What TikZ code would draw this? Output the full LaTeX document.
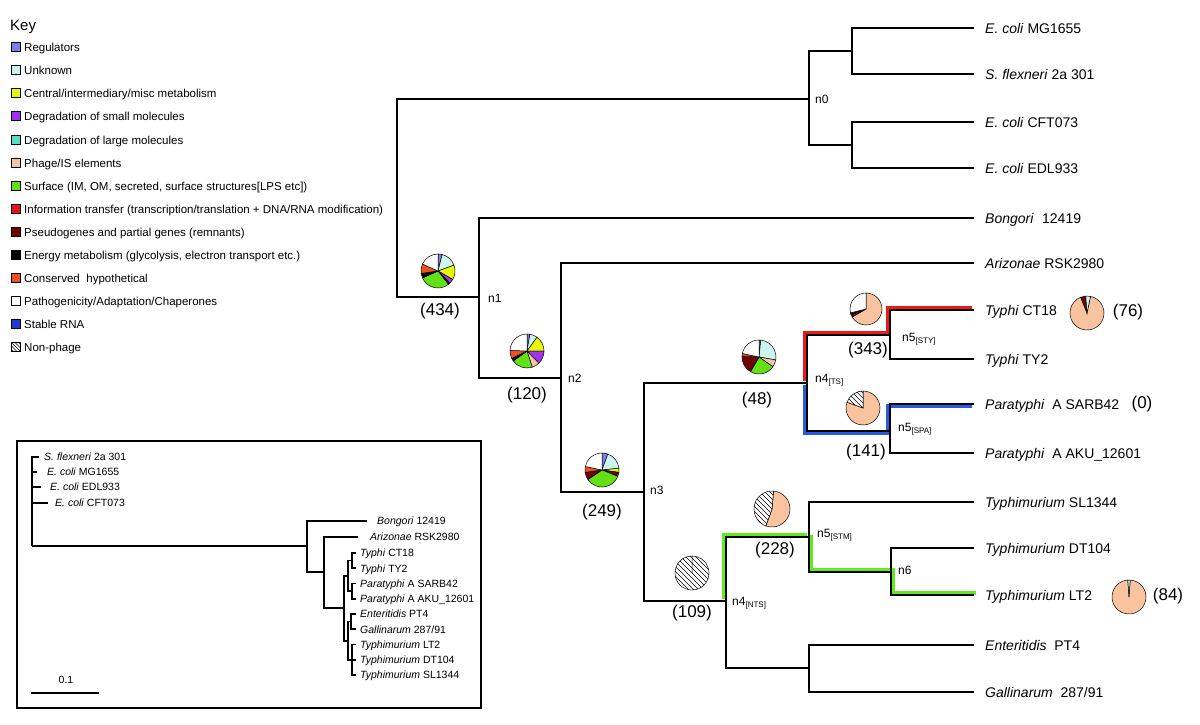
\documentclass[tikz,border=0pt]{standalone}
\usepackage{fontspec}
\setmainfont{Liberation Sans}
\definecolor{creg}{RGB}{125,125,235}
\definecolor{cunk}{RGB}{205,245,240}
\definecolor{ccen}{RGB}{230,250,0}
\definecolor{csml}{RGB}{160,50,240}
\definecolor{clrg}{RGB}{90,225,195}
\definecolor{cphg}{RGB}{250,195,160}
\definecolor{csur}{RGB}{100,225,20}
\definecolor{cinf}{RGB}{230,20,20}
\definecolor{cpse}{RGB}{110,5,5}
\definecolor{cene}{RGB}{0,0,0}
\definecolor{ccon}{RGB}{240,80,30}
\definecolor{cpat}{RGB}{255,255,255}
\definecolor{crna}{RGB}{30,60,200}
\definecolor{hlred}{RGB}{235,25,25}
\definecolor{hlblue}{RGB}{40,90,225}
\definecolor{hlgreen}{RGB}{95,235,30}
\newcommand{\pieslice}[4]{%
  \filldraw[fill=#4,draw=black,line width=0.5pt] (0,0) -- ({90-#2}:#1pt) arc[start angle={90-#2}, end angle={90-#3}, radius=#1pt] -- cycle;}
\newcommand{\hatchslice}[3]{%
  \begin{scope}
  \clip (0,0) -- ({90-#2}:#1pt) arc[start angle={90-#2}, end angle={90-#3}, radius=#1pt] -- cycle;
  \fill[white] (-30pt,-30pt) rectangle (30pt,30pt);
  \foreach \k in {-7,...,7} {\draw[line width=0.5pt] ({\k*5pt-30pt},{30pt}) -- ({\k*5pt+30pt},{-30pt});}
  \end{scope}
  \draw[line width=0.5pt] (0,0) -- ({90-#2}:#1pt) arc[start angle={90-#2}, end angle={90-#3}, radius=#1pt] -- cycle;}
\newcommand{\pieat}[3]{\begin{scope}[shift={(#1)}]\foreach \a/\b/\c in {#3}{\pieslice{#2}{\a}{\b}{\c}}\end{scope}}
\newcommand{\hatchat}[4]{\begin{scope}[shift={(#1)}]\hatchslice{#2}{#3}{#4}\end{scope}}
\newcommand{\subl}[1]{\raisebox{-2.5pt}{\fontsize{8}{9}\selectfont #1}}
\begin{document}
\begin{tikzpicture}[x=1pt,y=-1pt,
 br/.style={line width=1.8pt},
 ibr/.style={line width=1.6pt},
 hl/.style={line width=4.5pt},
 leaf/.style={anchor=west,inner sep=0pt,font=\fontsize{14}{16}\selectfont,text height=10pt,text depth=0pt},
 ilab/.style={anchor=west,inner sep=0pt,font=\fontsize{10.5}{12}\selectfont,text height=7.5pt,text depth=0pt},
 cnt/.style={inner sep=0pt,font=\fontsize{17}{19}\selectfont},
 nlab/.style={anchor=west,inner sep=0pt,font=\fontsize{12}{14}\selectfont,text height=8.6pt,text depth=0pt},
 keysq/.style={draw=black,line width=1.3pt,minimum size=9pt,inner sep=0pt},
 keylab/.style={anchor=west,inner sep=0pt,font=\fontsize{11.5}{13}\selectfont,text height=8.2pt,text depth=0pt},
]
\useasboundingbox (0,0) rectangle (1200,724);
\fill[white] (0,0) rectangle (1200,724);

% ---------------- Key ----------------
\node[anchor=west,inner sep=0pt,font=\fontsize{15}{17}\selectfont] (keytitle) at (10,27) {Key};
\foreach \i/\y/\c/\t in {
 1/47/creg/Regulators,
 2/70/cunk/Unknown,
 3/93/ccen/Central\slash intermediary\slash misc metabolism,
 4/116/csml/Degradation of small molecules,
 5/140/clrg/Degradation of large molecules,
 6/163/cphg/Phage\slash IS elements,
 7/186/csur/{Surface (IM, OM, secreted, surface structures[LPS etc])},
 8/209/cinf/Information transfer (transcription\slash translation + DNA\slash RNA modification),
 9/232/cpse/Pseudogenes and partial genes (remnants),
 10/255/cene/{Energy metabolism (glycolysis, electron transport etc.)},
 11/278/ccon/Conserved\hspace{0.3em} hypothetical,
 12/301/cpat/Pathogenicity\slash Adaptation\slash Chaperones,
 13/324/crna/Stable RNA}{
  \node[keysq,fill=\c] (ks\i) at (16,\y) {};
  \node[keylab] (kt\i) at (24,\y) {\t};
}
\node[keysq,fill=white,path picture={\foreach \k in {-3,...,3}{\draw[line width=0.4pt] ([xshift=\k*3.5pt-8pt,yshift=8pt]path picture bounding box.center) -- ([xshift=\k*3.5pt+8pt,yshift=-8pt]path picture bounding box.center);}}] (ks14) at (16,347) {};
\node[keylab] (kt14) at (24,347) {Non-phage};

% ---------------- Inset tree ----------------
\node[draw=black,line width=1.8pt,inner sep=0pt,minimum width=464pt,minimum height=267pt,anchor=north west] (inset) at (16,440) {};
\coordinate (iR) at (32,546);
\coordinate (iA) at (307,546);
\coordinate (iB) at (324,572);
\coordinate (iC) at (344,608);
\coordinate (iTP) at (348,576);
\coordinate (iTy) at (352,560.6);
\coordinate (iPa) at (352,591);
\coordinate (iEGT) at (348,641);
\coordinate (iEG) at (351,621.6);
\coordinate (iTm) at (352,659.75);
\node[ilab] (iSf) at (44,457) {\textit{S. flexneri} 2a 301};
\node[ilab] (iMG) at (47,472) {\textit{E. coli} MG1655};
\node[ilab] (iEDL) at (50,487) {\textit{E. coli} EDL933};
\node[ilab] (iCFT) at (55,503) {\textit{E. coli} CFT073};
\node[ilab] (iBon) at (377,521) {\textit{Bongori} 12419};
\node[ilab] (iAri) at (370,537) {\textit{Arizonae} RSK2980};
\node[ilab] (iCT) at (360,553) {\textit{Typhi} CT18};
\node[ilab] (iTY) at (360,568.25) {\textit{Typhi} TY2};
\node[ilab] (iSAR) at (360,583.5) {\textit{Paratyphi} A SARB42};
\node[ilab] (iAKU) at (360,598.75) {\textit{Paratyphi} A AKU\_12601};
\node[ilab] (iEnt) at (360,614) {\textit{Enteritidis} PT4};
\node[ilab] (iGal) at (360,629.25) {\textit{Gallinarum} 287/91};
\node[ilab] (iLT) at (360,644.5) {\textit{Typhimurium} LT2};
\node[ilab] (iDT) at (360,659.75) {\textit{Typhimurium} DT104};
\node[ilab] (iSL) at (360,675) {\textit{Typhimurium} SL1344};
\draw[ibr] (iR) |- ([xshift=-5pt]iSf.west);
\draw[ibr] (iR) |- ([xshift=-10pt]iMG.west);
\draw[ibr] (iR) |- ([xshift=-9pt]iEDL.west);
\draw[ibr] (iR) |- ([xshift=-7pt]iCFT.west);
\draw[ibr] (iR) -- (iA);
\draw[ibr] (iA) |- ([xshift=-10pt]iBon.west);
\draw[ibr] (iA) |- (iB);
\draw[ibr] (iB) |- ([xshift=-12pt]iAri.west);
\draw[ibr] (iB) |- (iC);
\draw[ibr] (iC) |- (iTP);
\draw[ibr] (iC) |- (iEGT);
\draw[ibr] (iTP) |- (iTy);
\draw[ibr] (iTP) |- (iPa);
\draw[ibr] (iEGT) |- (iEG);
\draw[ibr] (iEGT) |- (iTm);
\draw[ibr] (iTy) |- ([xshift=-4pt]iCT.west);
\draw[ibr] (iTy) |- ([xshift=-4pt]iTY.west);
\draw[ibr] (iPa) |- ([xshift=-4pt]iSAR.west);
\draw[ibr] (iPa) |- ([xshift=-4pt]iAKU.west);
\draw[ibr] (iEG) |- ([xshift=-4pt]iEnt.west);
\draw[ibr] (iEG) |- ([xshift=-4pt]iGal.west);
\draw[ibr] (iTm) |- ([xshift=-4pt]iLT.west);
\draw[ibr] (iTm) |- ([xshift=-4pt]iDT.west);
\draw[ibr] (iTm) |- ([xshift=-4pt]iSL.west);
\coordinate (sbA) at (31,693);
\coordinate (sbB) at (99,693);
\draw[ibr] (sbA) -- (sbB);
\node[inner sep=0pt,font=\fontsize{10.5}{12}\selectfont] (sbl) at (66,680) {0.1};

% ---------------- Main tree ----------------
\coordinate (root) at (397,198);
\coordinate (n0) at (809,99);
\coordinate (n0a) at (852,51);
\coordinate (n0b) at (852,145);
\coordinate (n1) at (479,297);
\coordinate (n2) at (561,378);
\coordinate (n3) at (644,492);
\coordinate (n4TS) at (807,383);
\coordinate (n5STY) at (890,335);
\coordinate (n5SPA) at (890,431);
\coordinate (n4NTS) at (726,601);
\coordinate (n5STM) at (809,537);
\coordinate (n6) at (891,572);
\coordinate (n5EG) at (809,668);

\node[leaf] (lMG) at (985,28) {\textit{E. coli} MG1655};
\node[leaf] (lSF) at (985,74) {\textit{S. flexneri} 2a 301};
\node[leaf] (lCFT) at (985,122) {\textit{E. coli} CFT073};
\node[leaf] (lEDL) at (985,168) {\textit{E. coli} EDL933};
\node[leaf] (lBon) at (985,218) {\textit{Bongori}\hspace{0.6em}12419};
\node[leaf] (lAri) at (985,263) {\textit{Arizonae} RSK2980};
\node[leaf] (lCT) at (985,310) {\textit{Typhi} CT18};
\node[leaf] (lTY) at (985,359) {\textit{Typhi} TY2};
\node[leaf] (lSAR) at (985,404) {\textit{Paratyphi}\hspace{0.55em}A SARB42};
\node[leaf] (lAKU) at (985,453) {\textit{Paratyphi}\hspace{0.55em}A AKU\_12601};
\node[leaf] (lSL) at (985,502) {\textit{Typhimurium} SL1344};
\node[leaf] (lDT) at (985,548) {\textit{Typhimurium} DT104};
\node[leaf] (lLT) at (985,595) {\textit{Typhimurium} LT2};
\node[leaf] (lEnt) at (985,645) {\textit{Enteritidis}\hspace{0.55em}PT4};
\node[leaf] (lGal) at (985,692) {\textit{Gallinarum}\hspace{0.55em}287/91};

% highlights
\draw[hl,hlred,transform canvas={xshift=-2pt,yshift=2pt}] (n4TS) |- (n5STY) |- ([xshift=-11pt]lCT.west);
\draw[hl,hlblue,transform canvas={xshift=-2pt,yshift=-2pt}] (n4TS) |- (n5SPA) |- ([xshift=-11pt]lSAR.west);
\draw[hl,hlgreen,transform canvas={xshift=-2pt,yshift=2pt}] (n4NTS) |- (n5STM);
\draw[hl,hlgreen,transform canvas={xshift=2pt,yshift=2pt}] (n5STM) |- (n6) |- ([xshift=-11pt]lLT.west);

% branches
\draw[br] (root) |- (n0);
\draw[br] (root) |- (n1);
\draw[br] (n0) |- (n0a);
\draw[br] (n0) |- (n0b);
\draw[br] (n0a) |- ([xshift=-11pt]lMG.west);
\draw[br] (n0a) |- ([xshift=-11pt]lSF.west);
\draw[br] (n0b) |- ([xshift=-11pt]lCFT.west);
\draw[br] (n0b) |- ([xshift=-11pt]lEDL.west);
\draw[br] (n1) |- ([xshift=-11pt]lBon.west);
\draw[br] (n1) |- (n2);
\draw[br] (n2) |- ([xshift=-11pt]lAri.west);
\draw[br] (n2) |- (n3);
\draw[br] (n3) |- (n4TS);
\draw[br] (n3) |- (n4NTS);
\draw[br] (n4TS) |- (n5STY);
\draw[br] (n4TS) |- (n5SPA);
\draw[br] (n5STY) |- ([xshift=-11pt]lCT.west);
\draw[br] (n5STY) |- ([xshift=-11pt]lTY.west);
\draw[br] (n5SPA) |- ([xshift=-11pt]lSAR.west);
\draw[br] (n5SPA) |- ([xshift=-11pt]lAKU.west);
\draw[br] (n4NTS) |- (n5STM);
\draw[br] (n4NTS) |- (n5EG);
\draw[br] (n5STM) |- ([xshift=-11pt]lSL.west);
\draw[br] (n5STM) |- (n6);
\draw[br] (n6) |- ([xshift=-11pt]lDT.west);
\draw[br] (n6) |- ([xshift=-11pt]lLT.west);
\draw[br] (n5EG) |- ([xshift=-11pt]lEnt.west);
\draw[br] (n5EG) |- ([xshift=-11pt]lGal.west);

% node labels
\node[nlab] (tn0) at (815,99) {n0};
\node[nlab] (tn1) at (488,298) {n1};
\node[nlab] (tn2) at (568,378) {n2};
\node[nlab] (tn3) at (650,490) {n3};
\node[nlab] (tn4TS) at (815,378) {n4\subl{[TS]}};
\node[nlab] (tn5STY) at (902,337) {n5\subl{[STY]}};
\node[nlab] (tn5SPA) at (898,427) {n5\subl{[SPA]}};
\node[nlab] (tn4NTS) at (732,601) {n4\subl{[NTS]}};
\node[nlab] (tn5STM) at (817,533) {n5\subl{[STM]}};
\node[nlab] (tn6) at (898,570) {n6};

% counts
\node[cnt] (c434) at (440,311) {(434)};
\node[cnt] (c120) at (527,395) {(120)};
\node[cnt] (c249) at (602,512) {(249)};
\node[cnt] (c48) at (757,400) {(48)};
\node[cnt] (c343) at (868,350) {(343)};
\node[cnt] (c141) at (866,452) {(141)};
\node[cnt] (c228) at (775,550) {(228)};
\node[cnt] (c109) at (692,613) {(109)};
\node[cnt] (c76) at (1128,312) {(76)};
\node[cnt] (c0) at (1142,404) {(0)};
\node[cnt] (c84) at (1168,596) {(84)};

% pies
\coordinate (pN1) at (438,271);
\coordinate (pN2) at (527,351);
\coordinate (pN3) at (602,470);
\coordinate (pTS) at (759,357);
\coordinate (pSTY) at (866,309);
\coordinate (pSPA) at (863,408);
\coordinate (pSTM) at (772,509);
\coordinate (pNTS) at (692,573);
\coordinate (pCT) at (1087,313);
\coordinate (pLT) at (1129,597);
\pieat{pN1}{17}{0/14/creg, 14/70/cunk, 70/120/ccen, 120/136/csml, 136/142/cene, 142/246/csur, 246/262/cene, 262/294/ccon, 294/360/cpat}
\pieat{pN2}{17}{0/10/creg, 10/36/cunk, 36/90/ccen, 90/136/csml, 136/162/cphg, 162/234/csur, 234/244/cene, 244/272/ccon, 272/360/cpat}
\pieat{pN3}{17}{0/20/creg, 20/84/cunk, 84/98/ccen, 98/112/cpse, 112/236/csur, 236/262/cpse, 262/282/ccon, 282/360/cpat}
\pieat{pTS}{17}{0/6/creg, 6/100/cunk, 100/125/cphg, 125/210/csur, 210/272/cpse, 272/282/ccon, 282/360/cpat}
\pieat{pSTY}{16}{0/240/cphg, 240/250/cpse, 250/256/cene, 256/360/cpat}
\pieat{pCT}{17}{12/338/cphg, 338/356/cpse, 356/372/cunk}
\pieat{pSPA}{17}{0/290/cphg}
\hatchat{pSPA}{17}{290}{360}
\pieat{pSTM}{18}{5/200/cphg}
\hatchat{pSTM}{18}{200}{365}
\hatchat{pNTS}{17}{0}{360}
\pieat{pLT}{17}{4/356/cphg, 356/364/cunk}
\end{tikzpicture}
\end{document}
